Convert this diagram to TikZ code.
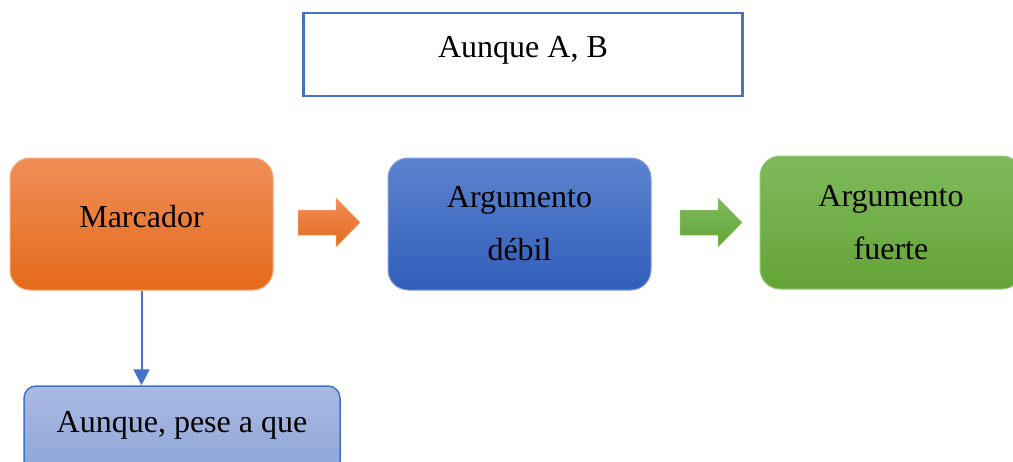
\documentclass[tikz,border=0pt]{standalone}
\usepackage{fontspec}
\setmainfont{Liberation Serif}
\usetikzlibrary{arrows.meta}

\definecolor{frameblue}{RGB}{68,114,196}
\definecolor{orTop}{RGB}{240,142,88}
\definecolor{orMid}{RGB}{245,125,38}
\definecolor{orBot}{RGB}{228,106,26}
\definecolor{orEdge}{RGB}{246,170,125}
\definecolor{blTop}{RGB}{92,131,206}
\definecolor{blMid}{RGB}{62,111,200}
\definecolor{blBot}{RGB}{48,94,186}
\definecolor{blEdge}{RGB}{130,160,220}
\definecolor{grTop}{RGB}{126,186,92}
\definecolor{grMid}{RGB}{109,173,66}
\definecolor{grBot}{RGB}{100,164,54}
\definecolor{grEdge}{RGB}{150,200,120}
\definecolor{lbTop}{RGB}{170,186,226}
\definecolor{lbBot}{RGB}{140,164,215}

\tikzset{
  txt/.style={font=\fontsize{32}{53}\selectfont, text=black, align=center, inner sep=0pt},
  card/.style={txt, rounded corners=20pt, line width=1pt},
}

\begin{document}
\begin{tikzpicture}[x=1pt, y=-1pt]
\useasboundingbox (0,0) rectangle (1013,461);
\clip (0,0) rectangle (1013,461);

% formula header
\node[txt, draw=frameblue, line width=2.5pt, fill=white,
      minimum width=439pt, minimum height=83pt, text height=22pt, text depth=17pt]
  (head) at (523,54.5) {Aunque A, B};

% connector marker
\node[card, draw=orEdge, top color=orTop, middle color=orMid, bottom color=orBot,
      minimum width=263pt, minimum height=132pt, text height=22pt, text depth=16pt]
  (mark) at (141.5,224) {Marcador};

% weak argument
\node[card, draw=blEdge, top color=blTop, middle color=blMid, bottom color=blBot,
      minimum width=263pt, minimum height=132pt]
  (weak) at (519.5,224) {Argumento\\débil};

% strong argument (runs past the right edge)
\node[card, draw=grEdge, top color=grTop, middle color=grMid, bottom color=grBot,
      minimum width=262pt, minimum height=133pt]
  (strong) at (891,222.5) {Argumento\\fuerte};

% examples of the marker
\node[card, rounded corners=12pt, draw=frameblue, line width=1.5pt,
      top color=lbTop, bottom color=lbBot,
      minimum width=316pt, minimum height=92pt, text height=22pt, text depth=22pt]
  (ex) at (182,432) {Aunque, pese a que};

% block arrows between the cards
\shade[top color=orTop, bottom color=orBot, draw=orEdge, line width=0.5pt]
  (298,210) -- (336,210) -- (336,198) -- (360,222.5) -- (336,247) -- (336,235) -- (298,235) -- cycle;
\shade[top color=grTop, bottom color=grBot, draw=grEdge, line width=0.5pt]
  (680,210) -- (718,210) -- (718,198) -- (742,222.5) -- (718,247) -- (718,235) -- (680,235) -- cycle;

% marker to examples
\draw[draw=frameblue, line width=2pt, -{Triangle[length=16pt, width=16pt]}]
  (mark.south) -- (mark.south |- ex.north);
\end{tikzpicture}
\end{document}
